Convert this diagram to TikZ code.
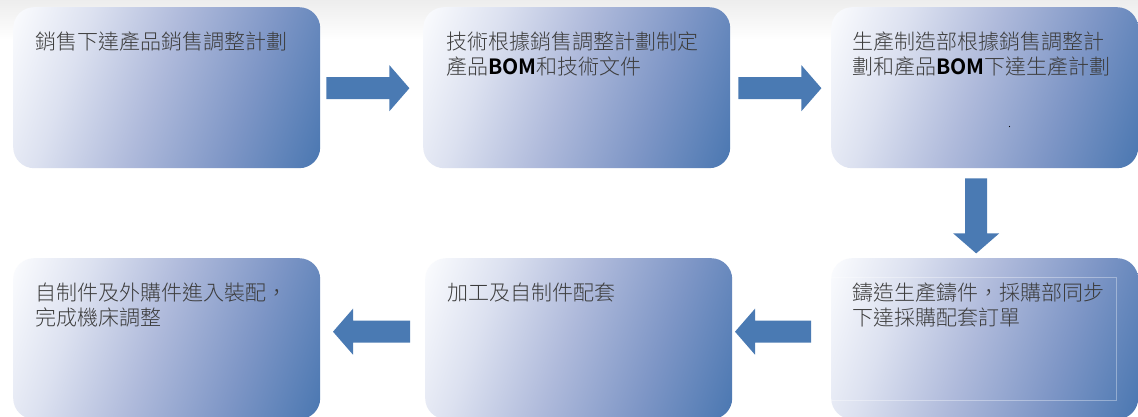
\documentclass[tikz,border=0pt]{standalone}
\usepackage{fontspec}
\setmainfont{Noto Sans CJK TC}[UprightFont=* Light, BoldFont=* Bold]
\usetikzlibrary{calc}
\definecolor{arrowblue}{HTML}{4A7AB3}
\definecolor{boxlight}{HTML}{FBFCFE}
\definecolor{boxpale}{HTML}{DCE1F0}
\definecolor{boxmid}{HTML}{AFBADB}
\definecolor{boxdeep}{HTML}{7E96C6}
\definecolor{boxdark}{HTML}{4A77B1}
\definecolor{txtgray}{HTML}{3C3C3C}
\pgfdeclareverticalshading{stageshade}{100bp}{color(0bp)=(boxdark); color(18bp)=(boxdark); color(35bp)=(boxdeep); color(52bp)=(boxmid); color(68bp)=(boxpale); color(82bp)=(boxlight); color(100bp)=(boxlight)}
\tikzset{
  stage/.style={rounded corners=21pt, shading=stageshade, shading angle=70,
    minimum width=307pt, minimum height=161pt, inner sep=0pt, anchor=north west},
  stagetext/.style={anchor=north west, inner sep=0pt, align=left, text=txtgray,
    font=\fontsize{21pt}{25pt}\selectfont},
  pics/barrow/.style={code={
    \fill[arrowblue] (0,-11) -- (#1-20,-11) -- (#1-20,-23) -- (#1,0)
      -- (#1-20,23) -- (#1-20,11) -- (0,11) -- cycle;}}
}
\begin{document}
\begin{tikzpicture}[x=1pt,y=-1pt]
\clip (0,0) rectangle (1138,417);
\useasboundingbox (0,0) rectangle (1138,417);
\fill[white] (0,0) rectangle (1138,417);
\shade[top color=black!7, bottom color=white] (0,0) rectangle (1138,40);

\node[stage] (b1) at (13,7) {};
\node[stage] (b2) at (423,7) {};
\node[stage] (b3) at (831,7) {};
\node[stage] (b4) at (13,258) {};
\node[stage] (b5) at (425,258) {};
\node[stage] (b6) at (831,258) {};

\node[stagetext] (t1) at ($(b1.north west)+(22,25)$) {銷售下達產品銷售調整計劃};
\node[stagetext] (t2) at ($(b2.north west)+(23,25)$) {技術根據銷售調整計劃制定\\產品{\color{black}\textbf{BOM}}和技術文件};
\node[stagetext] (t3) at ($(b3.north west)+(21,25)$) {生產制造部根據銷售調整計\\劃和產品{\color{black}\textbf{BOM}}下達生產計劃};
\node[stagetext, text=black, font=\fontsize{12pt}{14pt}\selectfont] (dot) at ($(b3.north west)+(177,119)$) {.};
\node[stagetext] (t6) at ($(b6.north west)+(21,25)$) {鑄造生產鑄件，採購部同步\\下達採購配套訂單};
\node[stagetext] (t5) at ($(b5.north west)+(22,25)$) {加工及自制件配套};
\node[stagetext] (t4) at ($(b4.north west)+(22,25)$) {自制件及外購件進入裝配，\\完成機床調整};

\draw[white, opacity=0.35, line width=0.5pt] ($(b6.north west)+(0,19)$) -- ($(b6.north west)+(285,19)$) -- ($(b6.north west)+(285,142)$) -- ($(b6.north west)+(0,142)$);

\pic (a1) at ($(b1.east)+(6,0.5)$) {barrow=83};
\pic (a2) at ($(b2.east)+(8,0.5)$) {barrow=83};
\pic[rotate=-90] (a3) at ($(b3.south)+(-8.5,10)$) {barrow=75};
\pic[rotate=180] (a4) at ($(b6.west)+(-20,-7)$) {barrow=76};
\pic[rotate=180] (a5) at ($(b5.west)+(-15,-7)$) {barrow=77};
\end{tikzpicture}
\end{document}
